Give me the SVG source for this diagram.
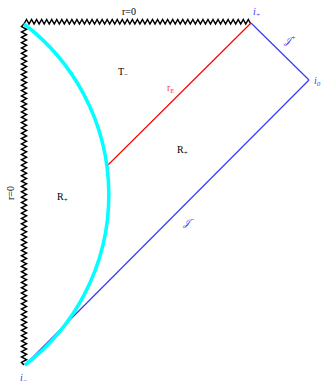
<svg xmlns="http://www.w3.org/2000/svg" width="332" height="384" viewBox="0 0 332 384">
<style>
text{font-family:"Liberation Serif","DejaVu Serif",serif;font-size:10px;fill:#000}
.b{fill:#3a3af0}
.s{font-size:7px}
.bl{stroke:#3a3af0;stroke-width:1.2;fill:none}
.zz{stroke:#000;stroke-width:1.5;fill:none;stroke-linejoin:miter}
</style>
<rect width="332" height="384" fill="#fff"/>
<g id="connectors">
<path id="sing-top" class="zz" d="M24,24 l2.52,-4.5 2.52,4.5 2.52,-4.5 2.52,4.5 2.52,-4.5 2.52,4.5 2.52,-4.5 2.52,4.5 2.52,-4.5 2.52,4.5 2.52,-4.5 2.52,4.5 2.52,-4.5 2.52,4.5 2.52,-4.5 2.52,4.5 2.52,-4.5 2.52,4.5
2.52,-4.5 2.52,4.5 2.52,-4.5 2.52,4.5 2.52,-4.5 2.52,4.5 2.52,-4.5 2.52,4.5 2.52,-4.5 2.52,4.5 2.52,-4.5 2.52,4.5 2.52,-4.5 2.52,4.5 2.52,-4.5 2.52,4.5 2.52,-4.5 2.52,4.5
2.52,-4.5 2.52,4.5 2.52,-4.5 2.52,4.5 2.52,-4.5 2.52,4.5 2.52,-4.5 2.52,4.5 2.52,-4.5 2.52,4.5 2.52,-4.5 2.52,4.5 2.52,-4.5 2.52,4.5 2.52,-4.5 2.52,4.5 2.52,-4.5 2.52,4.5
2.52,-4.5 2.52,4.5 2.52,-4.5 2.52,4.5 2.52,-4.5 2.52,4.5 2.52,-4.5 2.52,4.5 2.52,-4.5 2.52,4.5 2.52,-4.5 2.52,4.5 2.52,-4.5 2.52,4.5 2.52,-4.5 2.52,4.5 2.52,-4.5 2.52,4.5
2.52,-4.5 2.52,4.5 2.52,-4.5 2.52,4.5 2.52,-4.5 2.52,4.5 2.52,-4.5 2.52,4.5 2.52,-4.5 2.52,4.5 2.52,-4.5 2.52,4.5 2.52,-4.5 2.52,4.5 2.52,-4.5 2.52,4.5 2.52,-4.5 2.52,4.5"/>
<path id="sing-left" class="zz" d="M24,24 l-2.5,2.664
5,2.664 -5,2.664 5,2.664 -5,2.664 5,2.664 -5,2.664 5,2.664 -5,2.664 5,2.664 -5,2.664 5,2.664 -5,2.664 5,2.664 -5,2.664 5,2.664 -5,2.664 5,2.664 -5,2.664
5,2.664 -5,2.664 5,2.664 -5,2.664 5,2.664 -5,2.664 5,2.664 -5,2.664 5,2.664 -5,2.664 5,2.664 -5,2.664 5,2.664 -5,2.664 5,2.664 -5,2.664 5,2.664 -5,2.664
5,2.664 -5,2.664 5,2.664 -5,2.664 5,2.664 -5,2.664 5,2.664 -5,2.664 5,2.664 -5,2.664 5,2.664 -5,2.664 5,2.664 -5,2.664 5,2.664 -5,2.664 5,2.664 -5,2.664
5,2.664 -5,2.664 5,2.664 -5,2.664 5,2.664 -5,2.664 5,2.664 -5,2.664 5,2.664 -5,2.664 5,2.664 -5,2.664 5,2.664 -5,2.664 5,2.664 -5,2.664 5,2.664 -5,2.664
5,2.664 -5,2.664 5,2.664 -5,2.664 5,2.664 -5,2.664 5,2.664 -5,2.664 5,2.664 -5,2.664 5,2.664 -5,2.664 5,2.664 -5,2.664 5,2.664 -5,2.664 5,2.664 -5,2.664
5,2.664 -5,2.664 5,2.664 -5,2.664 5,2.664 -5,2.664 5,2.664 -5,2.664 5,2.664 -5,2.664 5,2.664 -5,2.664 5,2.664 -5,2.664 5,2.664 -5,2.664 5,2.664 -5,2.664
5,2.664 -5,2.664 5,2.664 -5,2.664 5,2.664 -5,2.664 5,2.664 -5,2.664 5,2.664 -5,2.664 5,2.664 -5,2.664 5,2.664 -5,2.664 5,2.664 -5,2.664 5,2.664 -5,2.664
2.5,2.664"/>
<path id="scri-plus" class="bl" d="M251,23 L309,80"/>
<path id="scri-minus" class="bl" d="M309,80 L25,365"/>
<path id="horizon" d="M251,23 L107,166" stroke="#ff0000" stroke-width="1.2" fill="none"/>
<path id="surface" d="M24,24 A214.5,214.5 0 0 1 25,365" stroke="#00ffff" stroke-width="3.5" fill="none"/>
</g>
<g id="labels">
<text x="122" y="15">r=0</text>
<text x="253" y="15" class="b" font-style="italic">i<tspan class="s" dy="2">+</tspan></text>
<text x="284" y="44" class="b" font-style="italic" font-family="'DejaVu Serif',serif">𝒥<tspan class="s" dy="-4">+</tspan></text>
<text x="314" y="84" class="b" font-style="italic">i<tspan class="s" dy="2">0</tspan></text>
<text x="118" y="75">T<tspan class="s" dy="2">−</tspan></text>
<text x="167" y="91" style="fill:#ff4040">r<tspan class="s" dy="2">E</tspan></text>
<text x="177" y="153">R<tspan class="s" dy="2">+</tspan></text>
<text x="57" y="200">R<tspan class="s" dy="2">+</tspan></text>
<text x="0" y="0" transform="translate(14,200) rotate(-90)">r=0</text>
<text x="183" y="226" class="b" font-style="italic">𝒥<tspan class="s" dy="-4">−</tspan></text>
<text x="20" y="381" class="b" font-style="italic">i<tspan class="s" dy="2">−</tspan></text>
</g>
</svg>
